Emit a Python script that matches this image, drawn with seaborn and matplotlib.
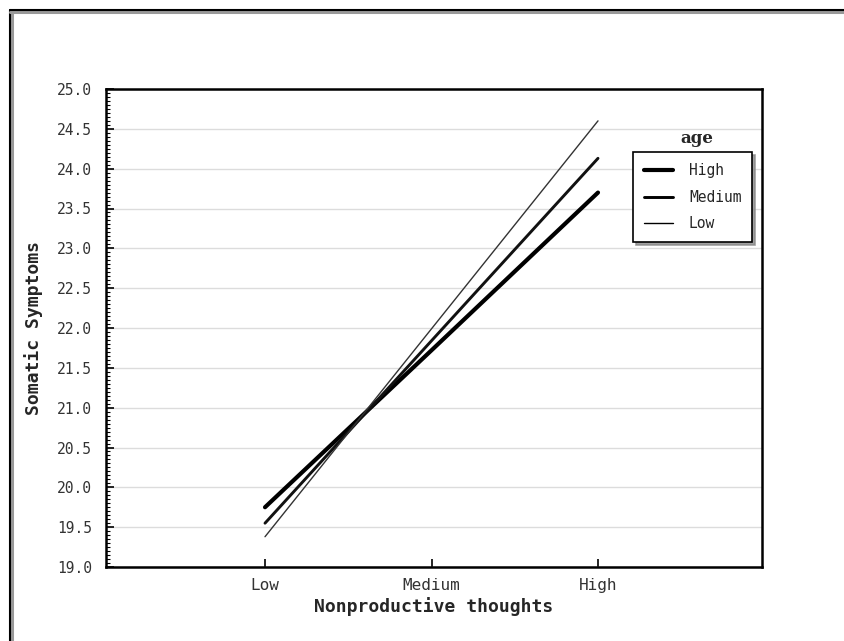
import matplotlib
matplotlib.use("Agg")
import matplotlib.pyplot as plt
import matplotlib.lines as mlines
from matplotlib.ticker import MultipleLocator, FormatStrFormatter
import seaborn as sns
import pandas as pd

# Data
x_levels = ["Low", "Medium", "High"]
age_groups = ["High", "Medium", "Low"]
y_high = [19.75, 21.72, 23.70]
y_medium = [19.55, 21.84, 24.13]
y_low = [19.38, 21.99, 24.60]

rows = []
for grp, vals in zip(age_groups, [y_high, y_medium, y_low]):
    for xl, v in zip(x_levels, vals):
        rows.append({"Nonproductive thoughts": xl, "Somatic Symptoms": v, "age": grp})
df = pd.DataFrame(rows)

sns.set_style("white")
mono = "DejaVu Sans Mono"
plt.rcParams["font.family"] = [mono]

fig = plt.figure(figsize=(8.45, 6.41), dpi=100)
ax = fig.add_axes([106 / 845, 1 - 567 / 641, (762 - 106) / 845, (567 - 89) / 641])

widths = {"High": 3.0, "Medium": 2.1, "Low": 1.0}
sns.lineplot(data=df, x="Nonproductive thoughts", y="Somatic Symptoms", hue="age",
             size="age", sizes=widths, palette={"High": "black", "Medium": "#111111", "Low": "#333333"},
             hue_order=age_groups, size_order=age_groups, sort=False,
             legend=False, ax=ax)

ax.set_xlim(-0.955, 2.985)
ax.set_ylim(19.0, 25.0)
ax.yaxis.set_major_locator(MultipleLocator(0.5))
ax.yaxis.set_minor_locator(MultipleLocator(0.05))
ax.yaxis.set_major_formatter(FormatStrFormatter("%.1f"))
ax.grid(axis="y", which="major", color="#dcdcdc", linewidth=1.0)
ax.set_axisbelow(True)

for s in ax.spines.values():
    s.set_color("black")
    s.set_linewidth(1.8)

ax.tick_params(axis="y", which="both", left=True, right=False)
ax.tick_params(axis="x", which="both", bottom=True, top=False)
ax.tick_params(axis="y", which="major", direction="in", length=6, width=1.2,
               labelsize=10.5, labelcolor="#333333", pad=10, color="black")
ax.tick_params(axis="y", which="minor", direction="in", length=3, width=0.8, color="black")
ax.tick_params(axis="x", which="major", direction="in", length=6, width=1.2,
               labelsize=11.5, labelcolor="#333333", pad=8, color="black")

ax.set_xlabel("Nonproductive thoughts", fontsize=13, fontweight="bold", labelpad=3)
ax.set_ylabel("Somatic Symptoms", fontsize=13, fontweight="bold", labelpad=10)

handles = [mlines.Line2D([], [], color="black", linewidth=widths[g]) for g in age_groups]
leg = ax.legend(handles, age_groups, loc="upper left",
                bbox_to_anchor=(0.803, 0.868), frameon=True, fancybox=False,
                shadow={"color": "#888888", "alpha": 0.8}, edgecolor="black",
                fontsize=10.5, handlelength=2.0, labelspacing=0.8,
                borderpad=0.75, handletextpad=1.1, borderaxespad=0)
leg.get_frame().set_linewidth(1.2)
ax.text(0.9, 0.878, "age", transform=ax.transAxes, ha="center", va="bottom",
        fontsize=12, fontweight="bold", family="DejaVu Serif")

# outer frame
fig.add_artist(mlines.Line2D([12 / 845, 12 / 845], [0, 1 - 12 / 641],
                             transform=fig.transFigure, color="#999999", linewidth=2.2))
fig.add_artist(mlines.Line2D([10 / 845, 10 / 845], [0, 1 - 10 / 641],
                             transform=fig.transFigure, color="black", linewidth=1.5))
fig.add_artist(mlines.Line2D([10 / 845, 1], [1 - 12 / 641, 1 - 12 / 641],
                             transform=fig.transFigure, color="#999999", linewidth=2.2))
fig.add_artist(mlines.Line2D([10 / 845, 1], [1 - 10 / 641, 1 - 10 / 641],
                             transform=fig.transFigure, color="black", linewidth=1.5))

fig.savefig("out.png", dpi=100)
